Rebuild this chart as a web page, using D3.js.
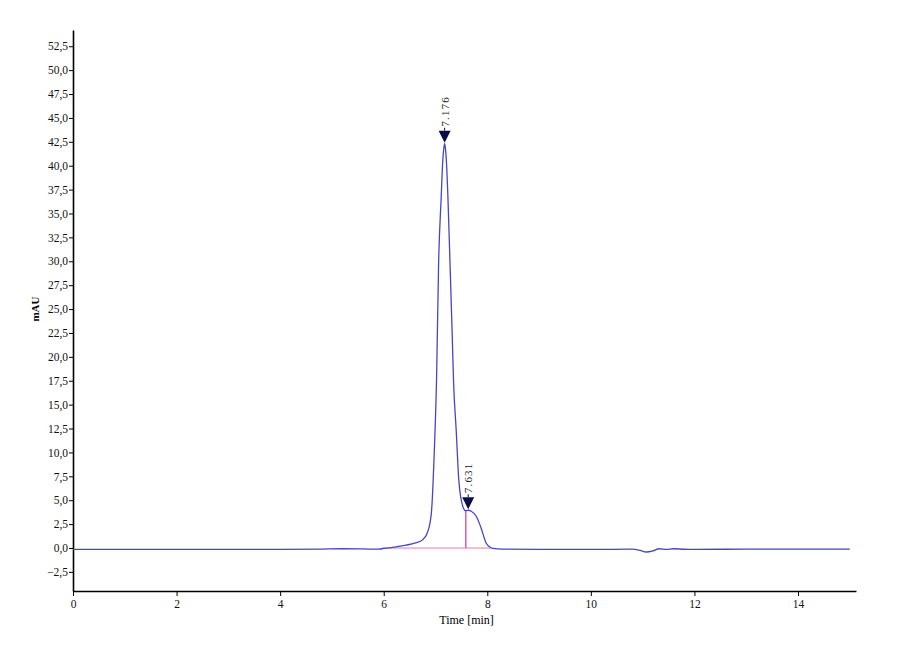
<!DOCTYPE html>
<html>
<head>
<meta charset="utf-8">
<script src="https://cdn.jsdelivr.net/npm/d3@7"></script>
<style>
    body { margin: 0; background: #fff; }
    text { font-family: "Liberation Serif", "DejaVu Serif", serif; }
</style>
</head>
<body>
<div id="chart"></div>
<script>
(function() {
    'use strict';

    // chromatogram trace
    let times = [0, 1, 2, 3, 4, 4.8, 5.2, 5.6, 5.9, 6.0, 6.2, 6.43, 6.6, 6.75, 6.85, 6.92, 6.98, 7.02,
                 7.06, 7.11, 7.14, 7.16, 7.176, 7.19, 7.21, 7.24, 7.28, 7.32, 7.35, 7.40, 7.45, 7.53,
                 7.58, 7.64, 7.69, 7.79, 7.88, 7.98, 8.05, 8.11, 8.3, 9, 10, 10.8, 10.95, 11.07, 11.2,
                 11.32, 11.45, 11.6, 11.8, 12, 13, 14, 15];
    let values = [-0.15, -0.15, -0.15, -0.15, -0.15, -0.12, -0.08, -0.1, -0.12, -0.05, 0.1, 0.3, 0.5,
                  0.85, 1.7, 3.65, 10.6, 17.6, 29.8, 36.7, 40.5, 41.8, 42.3, 41.9, 40.5, 36.7, 29.8,
                  22.8, 17.2, 12.3, 7.1, 4.3, 3.9, 3.95, 3.85, 3.3, 2.1, 0.5, 0.1, -0.05, -0.12, -0.15,
                  -0.15, -0.12, -0.25, -0.42, -0.3, -0.08, -0.15, -0.08, -0.13, -0.15, -0.12, -0.12, -0.12];

    let peakTimes = [7.176, 7.631];
    let peakHeights = [42.3, 3.95];
    let peakLabels = ["7.176", "7.631"];

    let baseStart = 5.98, baseEnd = 8.08;
    let dropTime = 7.585, dropHeight = 3.9;

    let yTicks = [-2.5, 0, 2.5, 5, 7.5, 10, 12.5, 15, 17.5, 20, 22.5, 25, 27.5, 30, 32.5, 35,
                  37.5, 40, 42.5, 45, 47.5, 50, 52.5];
    let xTicks = [0, 2, 4, 6, 8, 10, 12, 14];

    let width = 900, height = 660;
    let margin = { left: 73, top: 30, right: 44, bottom: 69 };

    let svg = d3.select("#chart").append("svg")
        .attr("width", width)
        .attr("height", height);

    let x = d3.scaleLinear().domain([0, 15.12]).range([margin.left, width - margin.right]);
    let y = d3.scaleLinear().domain([-4.5, 54.2]).range([height - margin.bottom, margin.top]);

    let fmt = function(d) { return d3.format(".1f")(d).replace(".", ","); };

    let yAxis = svg.append("g")
        .attr("transform", "translate(" + margin.left + ",0)")
        .call(d3.axisLeft(y).tickValues(yTicks).tickFormat(fmt).tickSize(4).tickPadding(1).tickSizeOuter(0));
    yAxis.select(".domain").attr("stroke-width", 1.6);
    yAxis.selectAll("text").attr("font-size", 11.5).attr("font-family", "Liberation Serif").attr("fill", "#111");

    let xAxis = svg.append("g")
        .attr("transform", "translate(0," + (height - margin.bottom) + ")")
        .call(d3.axisBottom(x).tickValues(xTicks).tickFormat(d3.format("d")).tickSize(5).tickPadding(4).tickSizeOuter(0));
    xAxis.select(".domain").attr("stroke-width", 1.6);
    xAxis.selectAll("text").attr("font-size", 11.5).attr("font-family", "Liberation Serif").attr("fill", "#111");

    svg.append("text")
        .attr("transform", "translate(39," + y(25) + ")rotate(-90)")
        .attr("text-anchor", "middle")
        .attr("font-size", 11)
        .attr("font-weight", "bold")
        .text("mAU");

    svg.append("text")
        .attr("x", x(7.6))
        .attr("y", 624)
        .attr("text-anchor", "middle")
        .attr("font-size", 12)
        .text("Time [min]");

    // integration baseline and drop line
    svg.append("line")
        .attr("x1", x(baseStart)).attr("x2", x(baseEnd))
        .attr("y1", y(0)).attr("y2", y(0))
        .attr("stroke", "#e37ab8").attr("stroke-width", 1.2);
    svg.append("line")
        .attr("x1", x(dropTime)).attr("x2", x(dropTime))
        .attr("y1", y(0)).attr("y2", y(dropHeight))
        .attr("stroke", "#e0509e").attr("stroke-width", 1.4);

    let trace = times.map(function(t, i) { return [t, values[i]]; });
    let line = d3.line()
        .x(function(d) { return x(d[0]); })
        .y(function(d) { return y(d[1]); })
        .curve(d3.curveMonotoneX);

    svg.append("path")
        .datum(trace)
        .attr("fill", "none")
        .attr("stroke", "#4646c4")
        .attr("stroke-width", 1.3)
        .attr("d", line);

    // peak markers
    peakTimes.forEach(function(t, i) {
        let px = x(t), py = y(peakHeights[i]) - 1;
        svg.append("path")
            .attr("d", "M" + (px - 6) + "," + (py - 12) + "L" + (px + 6) + "," + (py - 12) + "L" + px + "," + py + "Z")
            .attr("fill", "#0c0c45");
        svg.append("line")
            .attr("x1", px).attr("x2", px)
            .attr("y1", py - 15).attr("y2", py - 12)
            .attr("stroke", "#0c0c45").attr("stroke-width", 1);
        svg.append("text")
            .attr("transform", "translate(" + (px + 4) + "," + (py - 16) + ")rotate(-90)")
            .attr("font-size", 11)
            .attr("letter-spacing", 1.2)
            .attr("fill", "#222")
            .text(peakLabels[i]);
    });
})();
</script>
</body>
</html>
